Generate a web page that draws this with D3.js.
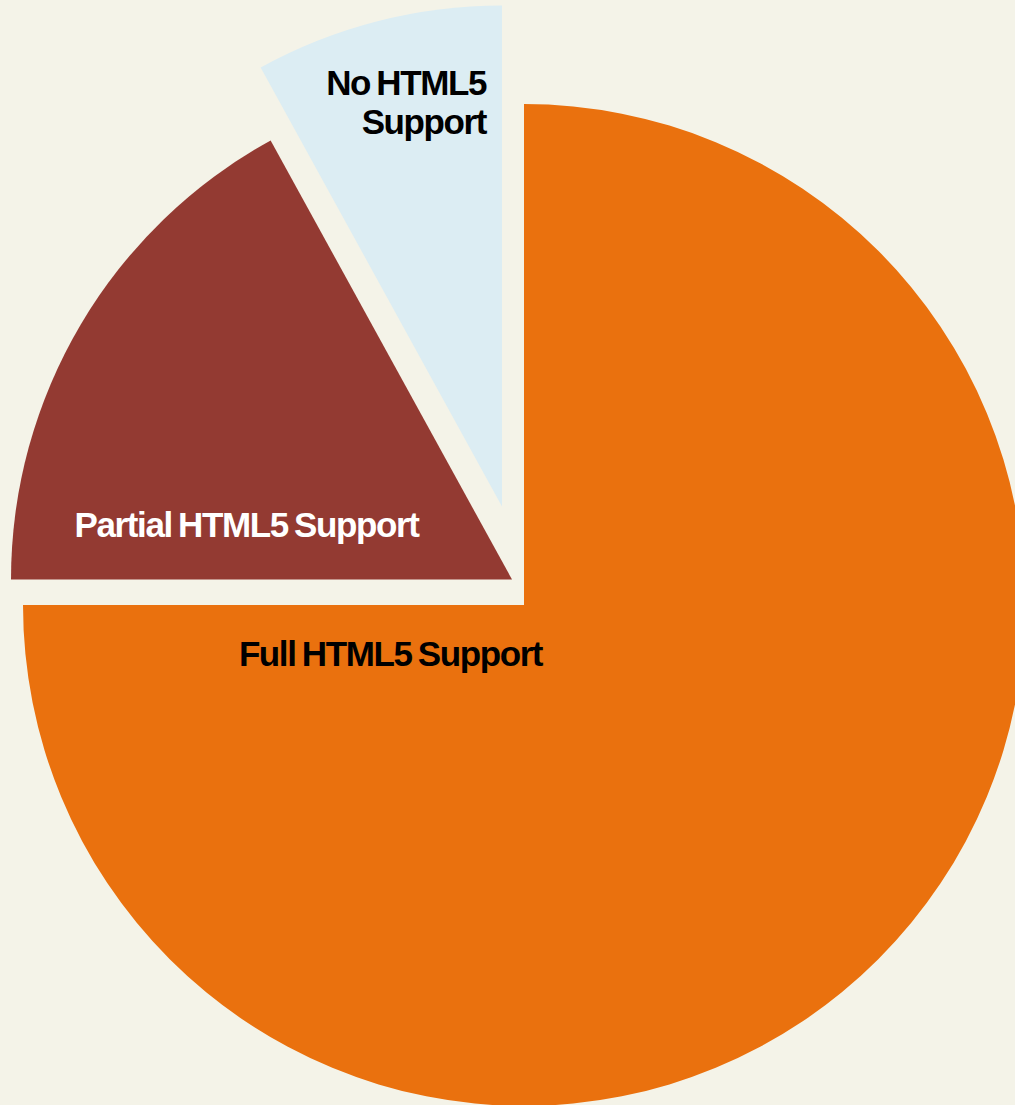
<!DOCTYPE html>
<html>
<head>
<meta charset="utf-8">
<script src="https://cdn.jsdelivr.net/npm/d3@7"></script>
<style>
  html, body { margin: 0; padding: 0; background: #f4f3e8; }
  svg { display: block; }
  .lbl { font-family: "Liberation Sans", Arial, sans-serif; font-weight: bold; font-size: 35px; letter-spacing: -1.4px; word-spacing: -2px; }
</style>
</head>
<body>
<div id="chart"></div>
<script>
// data
const categories = ["Full HTML5 Support", "Partial HTML5 Support", "No HTML5 Support"];
const shares = [75, 17, 8];
const labelLines = [["Full HTML5 Support"], ["Partial HTML5 Support"], ["No HTML5", "Support"]];

// style / layout
const sliceColors = ["#ea710e", "#933a32", "#dcedf3"];
const textColors = ["#000", "#fff", "#000"];
const explode = [[0, 0], [-12, -25.5], [-22, -98.5]];   // offset of each slice
const labelPos = [
  { x: -133.5, y: 60.5, anchor: "middle" },
  { x: -277.5, y: -68, anchor: "middle" },
  { x: -38, y: -510, anchor: "end" }
];

const width = 1015, height = 1105;
const cx = 524, cy = 605, radius = 501;

const svg = d3.select("#chart").append("svg")
    .attr("width", width)
    .attr("height", height);

svg.append("rect")
    .attr("width", width)
    .attr("height", height)
    .attr("fill", "#f4f3e8");

const pie = d3.pie().sort(null).value(d => d);
const arc = d3.arc().innerRadius(0).outerRadius(radius);

const arcs = pie(shares);

const g = svg.append("g").attr("transform", `translate(${cx},${cy})`);

g.selectAll("path")
    .data(arcs)
    .enter()
    .append("path")
    .attr("transform", (d, i) => `translate(${explode[i][0]},${explode[i][1]})`)
    .attr("d", arc)
    .attr("fill", (d, i) => sliceColors[i]);

// labels
arcs.forEach((d, i) => {
    const t = g.append("text")
        .attr("class", "lbl")
        .attr("x", labelPos[i].x)
        .attr("y", labelPos[i].y)
        .attr("text-anchor", labelPos[i].anchor)
        .attr("fill", textColors[i]);
    labelLines[i].forEach((line, j) => {
        t.append("tspan")
            .attr("x", labelPos[i].x)
            .attr("dy", j === 0 ? 0 : 39)
            .text(line);
    });
});
</script>
</body>
</html>
